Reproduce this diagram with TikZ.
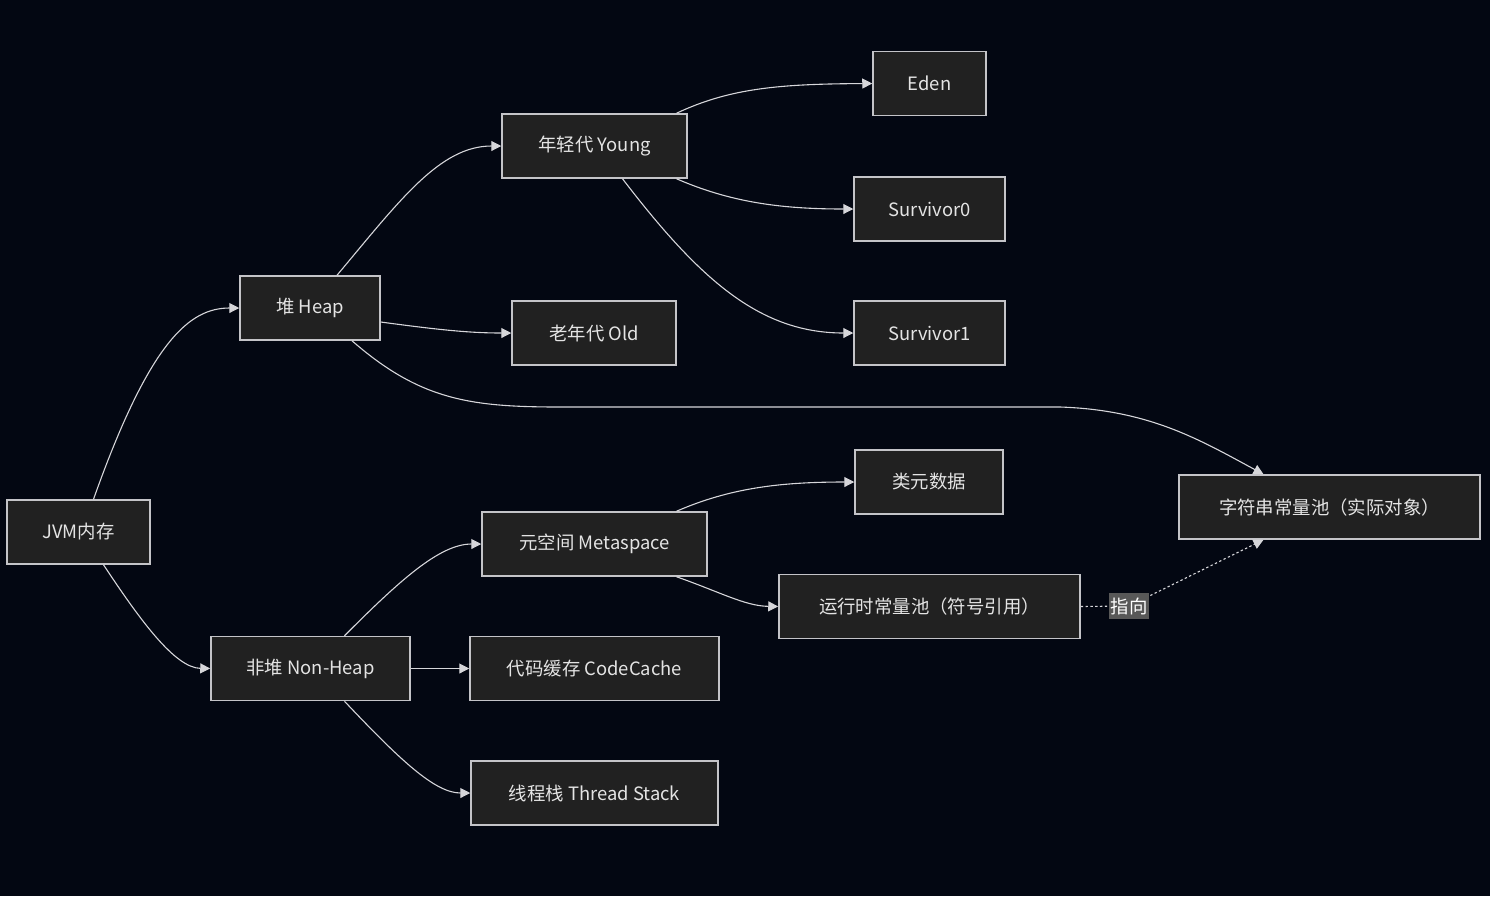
\documentclass[tikz,border=0pt]{standalone}
\usepackage{fontspec}
\setmainfont{Noto Sans CJK SC}
\usepackage{tikz}
\usetikzlibrary{arrows.meta, calc}
\definecolor{bgdark}{RGB}{3,7,18}
\definecolor{boxfill}{RGB}{33,33,33}
\definecolor{boxline}{RGB}{196,196,200}
\definecolor{boxtext}{RGB}{228,228,228}
\definecolor{edgeline}{RGB}{214,214,218}
\definecolor{tagfill}{RGB}{88,88,88}
\tikzset{
  block/.style={rectangle, draw=boxline, fill=boxfill, text=boxtext,
    minimum height=32pt, inner xsep=4pt, font=\fontsize{9.2}{11}\selectfont,
    line width=0.75pt},
  arrow/.style={-{Triangle[length=5pt, width=5pt]}, line width=0.55pt, color=edgeline},
  dotarrow/.style={arrow, dash pattern=on 1.2pt off 1.2pt},
  tag/.style={fill=tagfill, text=white, inner xsep=1pt, inner ysep=2.5pt,
    font=\fontsize{9.2}{11}\selectfont}
}
\begin{document}
\begin{tikzpicture}[x=0.5pt, y=-0.5pt]
  \fill[bgdark] (0,0) rectangle (1490,896);
  \useasboundingbox (0,0) rectangle (1490,896);

  % Nodes
  \node[block, minimum width=71.5pt] (jvm) at (78.5,532) {JVM内存};
  \node[block, minimum width=70pt] (heap) at (310,308) {堆 Heap};
  \node[block, minimum width=99.5pt] (nonheap) at (310.5,668.5) {非堆 Non-Heap};
  \node[block, minimum width=92.5pt] (young) at (594.5,146) {年轻代 Young};
  \node[block, minimum width=82pt] (old) at (594,333) {老年代 Old};
  \node[block, minimum width=112.5pt] (meta) at (594.5,544) {元空间 Metaspace};
  \node[block, minimum width=124.5pt] (code) at (594.5,668.5) {代码缓存 CodeCache};
  \node[block, minimum width=123.5pt] (thread) at (594.5,793) {线程栈 Thread Stack};
  \node[block, minimum width=56.5pt] (eden) at (929.5,83.5) {Eden};
  \node[block, minimum width=75.5pt] (sur0) at (929.5,209) {Survivor0};
  \node[block, minimum width=75.5pt] (sur1) at (929.5,333) {Survivor1};
  \node[block, minimum width=74pt] (klass) at (929,482) {类元数据};
  \node[block, minimum width=150.5pt] (rcp) at (929.5,606.5) {运行时常量池（符号引用）};
  \node[block, minimum width=150.5pt] (strpool) at (1329.5,507) {字符串常量池（实际对象）};

  % Heap side
  \draw[arrow] ($(jvm.north)+(15,0)$) .. controls (150,340) and (190,308) .. (heap.west);
  \draw[arrow] ($(heap.north)+(27,0)$) .. controls (400,200) and (440,146) .. (young.west);
  \draw[arrow] ($(heap.east)+(0,14)$) .. controls (440,330) and (470,333) .. (old.west);
  \draw[arrow] ($(heap.south)+(42,0)$) .. controls (420,400) and (470,407) .. (560,407)
    -- (1060,407) .. controls (1150,410) and (1200,440) .. ($(strpool.north)+(-66,0)$);
  \draw[arrow] ($(young.north)+(82,0)$) .. controls (730,88) and (780,84) .. (eden.west);
  \draw[arrow] ($(young.south)+(82,0)$) .. controls (730,202) and (780,209) .. (sur0.west);
  \draw[arrow] ($(young.south)+(28,0)$) .. controls (700,280) and (760,333) .. (sur1.west);

  % Non-heap side
  \draw[arrow] ($(jvm.south)+(25,0)$) .. controls (140,620) and (175,668) .. (nonheap.west);
  \draw[arrow] ($(nonheap.north)+(34,0)$) .. controls (400,580) and (440,544) .. (meta.west);
  \draw[arrow] (nonheap.east) -- (code.west);
  \draw[arrow] ($(nonheap.south)+(34,0)$) .. controls (400,760) and (435,793) .. (thread.west);
  \draw[arrow] ($(meta.north)+(82,0)$) .. controls (730,488) and (780,482) .. (klass.west);
  \draw[arrow] ($(meta.south)+(82,0)$) .. controls (720,592) and (745,606) .. (rcp.west);

  % Reference
  \draw[dotarrow] (rcp.east) -- (1129,606) node[tag] (point) {指向}
    -- ($(strpool.south)+(-66,0)$);
\end{tikzpicture}
\end{document}
